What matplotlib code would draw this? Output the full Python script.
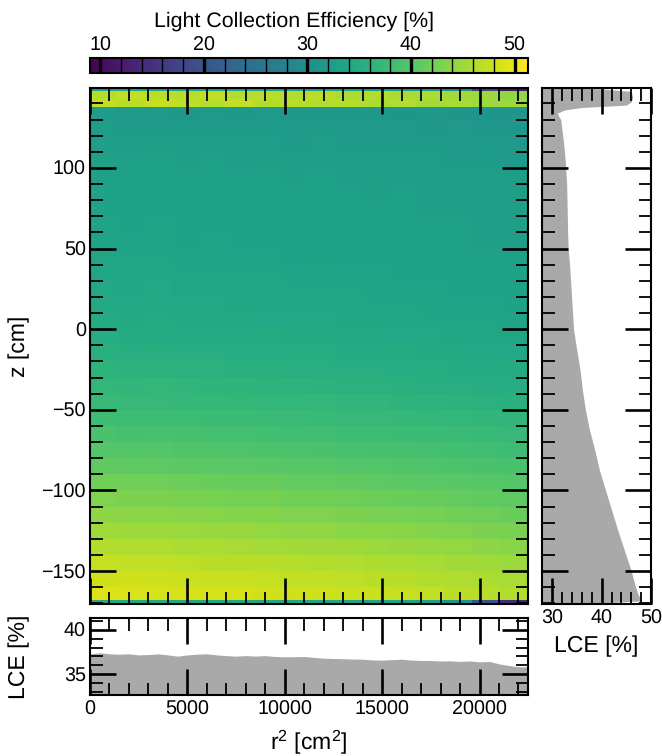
import numpy as np
from matplotlib import pyplot as plt
from matplotlib.ticker import MultipleLocator

plt.rcParams['font.family'] = ['Liberation Sans', 'DejaVu Sans']
plt.rcParams['mathtext.default'] = 'regular'
plt.rcParams['text.hinting'] = 'no_hinting'

# bin edges of the coarse map
r2_edges = [0, 1400, 2800, 4200, 5600, 7000, 8400, 9800, 11200, 12600, 14000, 15400, 16800, 18200, 19600, 21000, 22500]
z_edges = [150, 148, 143, 138, 130, 120, 110, 100, 90, 80, 70, 60, 50, 40, 30, 20, 10, 0, -10, -20, -30,
           -40, -50, -60, -70, -80, -90, -100, -110, -120, -130, -140, -150, -160, -168, -170.5]

# values, top row first
lce_map = [
    [33.0, 33.2, 33.0, 32.8, 33.1, 32.9, 32.7, 33.0, 32.6, 32.7, 32.2, 31.8, 30.5, 28.5, 17.0, 11.0],
    [46.6, 47.4, 47.0, 46.8, 47.2, 46.5, 46.9, 46.3, 46.7, 46.0, 46.4, 45.8, 45.9, 45.4, 45.0, 44.2],
    [47.3, 46.8, 47.6, 47.1, 46.6, 47.2, 46.4, 46.9, 46.2, 46.6, 45.9, 46.2, 45.5, 45.8, 44.9, 45.1],
    [32.0, 31.7, 31.9, 31.6, 31.8, 31.5, 31.7, 31.4, 31.6, 31.4, 31.5, 31.2, 31.4, 31.1, 31.2, 31.0],
    [32.3, 32.1, 32.2, 32.0, 32.1, 31.9, 32.0, 31.9, 31.8, 31.9, 31.7, 31.8, 31.6, 31.7, 31.5, 31.5],
    [32.6, 32.5, 32.7, 32.4, 32.5, 32.3, 32.4, 32.2, 32.3, 32.1, 32.2, 32.0, 32.1, 31.9, 32.0, 31.8],
    [33.0, 32.8, 32.9, 32.7, 32.8, 32.6, 32.7, 32.5, 32.6, 32.4, 32.5, 32.3, 32.4, 32.2, 32.2, 32.1],
    [33.1, 33.0, 33.2, 32.9, 33.0, 32.8, 32.9, 32.7, 32.8, 32.6, 32.7, 32.5, 32.6, 32.4, 32.4, 32.3],
    [33.3, 33.1, 33.2, 33.0, 33.1, 32.9, 33.0, 32.9, 32.8, 32.9, 32.7, 32.8, 32.6, 32.6, 32.4, 32.4],
    [33.4, 33.3, 33.4, 33.2, 33.1, 33.2, 33.0, 33.1, 32.9, 33.0, 32.8, 32.9, 32.7, 32.7, 32.5, 32.5],
    [33.5, 33.4, 33.5, 33.3, 33.3, 33.2, 33.2, 33.1, 33.1, 33.0, 33.0, 32.9, 32.8, 32.8, 32.6, 32.6],
    [33.7, 33.5, 33.6, 33.4, 33.5, 33.3, 33.4, 33.2, 33.2, 33.1, 33.1, 33.0, 32.9, 32.9, 32.7, 32.7],
    [33.9, 33.8, 33.8, 33.7, 33.6, 33.6, 33.5, 33.4, 33.4, 33.3, 33.3, 33.2, 33.1, 33.0, 32.9, 32.8],
    [34.1, 34.0, 34.1, 33.9, 33.9, 33.8, 33.8, 33.6, 33.7, 33.5, 33.5, 33.4, 33.3, 33.2, 33.1, 33.0],
    [34.3, 34.2, 34.3, 34.1, 34.1, 34.0, 34.0, 33.9, 33.8, 33.8, 33.7, 33.6, 33.5, 33.4, 33.3, 33.2],
    [34.6, 34.4, 34.5, 34.3, 34.4, 34.2, 34.2, 34.1, 34.1, 34.0, 33.9, 33.8, 33.7, 33.6, 33.5, 33.4],
    [34.8, 34.7, 34.8, 34.6, 34.6, 34.5, 34.4, 34.4, 34.3, 34.2, 34.2, 34.0, 34.0, 33.8, 33.8, 33.6],
    [35.2, 35.1, 35.1, 35.0, 34.9, 34.9, 34.8, 34.7, 34.7, 34.5, 34.5, 34.4, 34.3, 34.2, 34.0, 33.9],
    [35.8, 35.6, 35.7, 35.5, 35.5, 35.3, 35.4, 35.2, 35.2, 35.0, 35.0, 34.9, 34.7, 34.7, 34.5, 34.4],
    [36.3, 36.1, 36.2, 36.0, 36.0, 35.9, 35.8, 35.7, 35.7, 35.5, 35.5, 35.3, 35.2, 35.1, 35.0, 34.8],
    [36.9, 36.7, 36.8, 36.6, 36.5, 36.5, 36.3, 36.3, 36.2, 36.0, 36.0, 35.8, 35.7, 35.6, 35.4, 35.3],
    [37.5, 37.4, 37.4, 37.2, 37.2, 37.0, 37.0, 36.9, 36.8, 36.7, 36.6, 36.4, 36.3, 36.2, 36.0, 35.9],
    [38.2, 38.1, 38.1, 38.0, 37.9, 37.8, 37.7, 37.6, 37.5, 37.4, 37.3, 37.1, 37.0, 36.9, 36.7, 36.6],
    [39.1, 38.9, 39.0, 38.8, 38.7, 38.7, 38.5, 38.4, 38.3, 38.2, 38.1, 37.9, 37.8, 37.7, 37.5, 37.3],
    [40.0, 39.8, 39.9, 39.7, 39.6, 39.5, 39.4, 39.3, 39.2, 39.0, 38.9, 38.8, 38.6, 38.5, 38.3, 38.1],
    [41.0, 40.8, 40.8, 40.7, 40.5, 40.5, 40.3, 40.2, 40.1, 39.9, 39.8, 39.6, 39.5, 39.3, 39.2, 39.0],
    [42.1, 41.9, 41.9, 41.8, 41.6, 41.5, 41.4, 41.2, 41.1, 40.9, 40.8, 40.6, 40.5, 40.3, 40.1, 39.9],
    [43.1, 43.0, 42.9, 42.8, 42.6, 42.5, 42.4, 42.2, 42.1, 41.9, 41.8, 41.6, 41.4, 41.3, 41.0, 40.8],
    [44.1, 44.0, 43.9, 43.8, 43.6, 43.5, 43.4, 43.2, 43.1, 42.9, 42.8, 42.6, 42.4, 42.2, 42.0, 41.7],
    [45.3, 45.1, 45.1, 44.9, 44.7, 44.7, 44.5, 44.3, 44.2, 44.0, 43.9, 43.7, 43.5, 43.3, 43.0, 42.8],
    [46.4, 46.3, 46.2, 46.0, 45.9, 45.8, 45.6, 45.5, 45.3, 45.2, 45.0, 44.8, 44.6, 44.4, 44.1, 43.8],
    [47.5, 47.3, 47.3, 47.1, 47.0, 46.9, 46.7, 46.6, 46.4, 46.3, 46.1, 45.9, 45.7, 45.5, 45.2, 44.9],
    [48.3, 48.2, 48.1, 47.9, 47.8, 47.7, 47.5, 47.4, 47.2, 47.1, 46.9, 46.7, 46.5, 46.3, 46.0, 45.7],
    [49.0, 48.9, 48.8, 48.7, 48.5, 48.5, 48.3, 48.2, 48.0, 47.9, 47.7, 47.5, 47.3, 47.0, 46.7, 46.4],
    [34.5, 34.4, 34.6, 34.3, 34.2, 34.4, 34.0, 33.8, 33.6, 33.9, 33.5, 33.7, 33.0, 31.0, 20.0, 14.0],
]

# right panel, LCE against z
side_z = [149.6, 149, 147.5, 144, 141, 139, 137.5, 136, 134, 132, 130, 125, 115, 105, 100, 90, 75, 60, 50, 40, 25,
          10, 0, -10, -25, -38, -50, -62, -75, -88, -100, -112, -125, -138, -150, -158, -164, -167.5, -168.5, -170]
side_lce = [34, 40, 46, 46.3, 46, 45, 36, 32.5, 31, 31.3, 31.7, 31.9, 32.3, 32.6, 32.7, 32.9, 33, 33.1, 33.2, 33.5,
            33.8, 34.1, 34.3, 34.8, 35.6, 36.1, 36.7, 37.5, 38.6, 39.6, 40.8, 42.0, 43.3, 44.7, 46, 46.7, 47.3, 47.9, 47.9, 38]

# bottom panel, LCE against r2
bottom_r2 = np.arange(0, 23000, 500)
bottom_lce = [37.3, 37.41, 37.3, 37.26, 37.3, 37.18, 37.22, 37.3, 37.18, 37.04, 37.18, 37.26, 37.3, 37.18, 37.1, 37.04,
              37.1, 37.04, 37.1, 37.0, 36.96, 36.98, 37.0, 36.9, 36.81, 36.78, 36.75, 36.72, 36.7, 36.62, 36.59, 36.65,
              36.7, 36.6, 36.56, 36.55, 36.5, 36.52, 36.45, 36.5, 36.4, 36.45, 36.18, 36.0, 35.85, 35.85]

cbar_ticks = [10, 20, 30, 40, 50]
z_ticks = [-150, -100, -50, 0, 50, 100]
r2_ticks = [0, 5000, 10000, 15000, 20000]
side_ticks = [30, 40, 50]
bottom_ticks = [35, 40]

vmin, vmax = 9, 51.3
W, H = 662, 756
fs = 14.2
label_fs = 16.6


def box(x0, y0, x1, y1):
    return [x0 / W, 1 - y1 / H, (x1 - x0) / W, (y1 - y0) / H]


def style(ax, major_len=18.5, minor_len=9):
    for s in ax.spines.values():
        s.set_linewidth(1.5)
    ax.tick_params(which='major', direction='in', length=major_len, width=1.9, top=True, bottom=True, left=True,
                   right=True, labelsize=fs)
    ax.tick_params(which='minor', direction='in', length=minor_len, width=1.3, top=True, bottom=True, left=True,
                   right=True)
    ax.tick_params(axis='x', which='major', pad=4)
    ax.tick_params(axis='y', which='major', pad=3)


fig = plt.figure(figsize=(6.62, 7.56), dpi=100)
ax = fig.add_axes(box(90, 88, 528, 604))
ax_c = fig.add_axes(box(90, 58, 528, 73))
ax_s = fig.add_axes(box(542, 88, 651, 604))
ax_b = fig.add_axes(box(90, 618, 528, 695))

mesh = ax.pcolormesh(r2_edges, z_edges, np.array(lce_map), cmap='viridis', vmin=vmin, vmax=vmax, shading='flat')
ax.set_xlim(0, 22490)
ax.set_ylim(-170.4, 149.6)
ax.set_xticks(r2_ticks)
ax.xaxis.set_minor_locator(MultipleLocator(1000))
ax.set_yticks(z_ticks)
ax.yaxis.set_minor_locator(MultipleLocator(10))
style(ax)
ax.tick_params(labelbottom=False)
ax.set_ylabel('z [cm]', fontsize=label_fs)
ax.yaxis.set_label_coords(-0.137, 0.5)

cb = fig.colorbar(mesh, cax=ax_c, orientation='horizontal')
cb.set_ticks(cbar_ticks)
ax_c.xaxis.set_minor_locator(MultipleLocator(2))
ax_c.xaxis.set_ticks_position('top')
ax_c.xaxis.set_label_position('top')
cb.outline.set_linewidth(1.5)
ax_c.tick_params(which='major', direction='in', length=11, width=2.4, labelsize=fs, top=True, bottom=False, pad=2)
ax_c.tick_params(which='minor', direction='in', length=11, width=1, top=True, bottom=False)
ax_c.set_xlabel('Light Collection Efficiency [%]', fontsize=15.4, labelpad=7, x=0.466)

ax_s.fill_betweenx(side_z, 0, side_lce, color='#a9a9a9', lw=0)
ax_s.set_xlim(27.9, 50)
ax_s.set_ylim(-170.4, 149.6)
ax_s.set_xticks(side_ticks)
ax_s.xaxis.set_minor_locator(MultipleLocator(2))
ax_s.set_yticks(z_ticks)
ax_s.yaxis.set_minor_locator(MultipleLocator(10))
style(ax_s)
ax_s.tick_params(labelleft=False)
ax_s.set_xlabel('LCE [%]', fontsize=label_fs, labelpad=5)

ax_b.fill_between(bottom_r2, 0, bottom_lce, color='#a9a9a9', lw=0)
ax_b.set_xlim(0, 22490)
ax_b.set_ylim(32.7, 41.3)
ax_b.set_xticks(r2_ticks)
ax_b.xaxis.set_minor_locator(MultipleLocator(1000))
ax_b.set_yticks(bottom_ticks)
ax_b.yaxis.set_minor_locator(MultipleLocator(1))
style(ax_b)
ax_b.set_xlabel('r$^2$ [cm$^2$]', fontsize=label_fs, labelpad=6)
ax_b.set_ylabel('LCE [%]', fontsize=label_fs)
ax_b.yaxis.set_label_coords(-0.137, 0.5)

plt.savefig('out.png', dpi=100)
